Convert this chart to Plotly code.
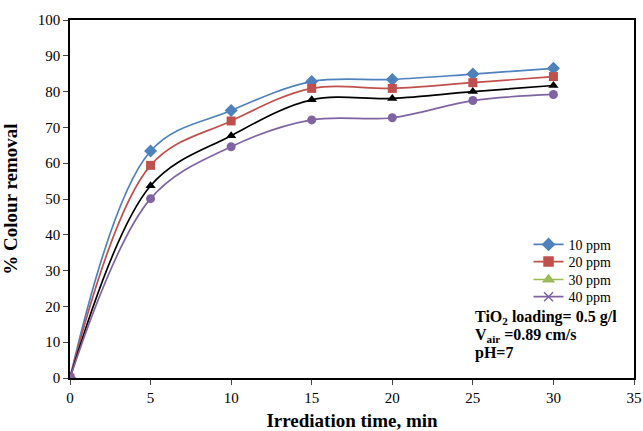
import plotly.graph_objects as go

time_min = [0, 5, 10, 15, 20, 25, 30]
ppm10 = [0, 63.4, 74.7, 82.8, 83.4, 84.9, 86.5]
ppm20 = [0, 59.4, 71.8, 80.9, 80.9, 82.5, 84.2]
ppm30 = [0, 53.7, 67.7, 77.7, 78.1, 80.0, 81.7]
ppm40 = [0, 50.1, 64.6, 72.1, 72.7, 77.5, 79.2]

x_ticks = [0, 5, 10, 15, 20, 25, 30, 35]
y_ticks = [0, 10, 20, 30, 40, 50, 60, 70, 80, 90, 100]

conditions = [
    "TiO<sub>2</sub> loading= 0.5 g/l",
    "V<sub>air</sub> =0.89 cm/s",
    "pH=7",
]

FONT = "Liberation Serif"

fig = go.Figure()

# plotted series
series = [
    ("10 ppm", ppm10, "#4F81BD", "diamond", 10),
    ("20 ppm", ppm20, "#C0504D", "square", 9),
    ("30 ppm", ppm30, "#000000", "triangle-up", 9),
    ("40 ppm", ppm40, "#8064A2", "circle", 9),
]
for name, vals, col, sym, size in series:
    fig.add_trace(go.Scatter(
        x=time_min, y=vals, name=name, mode="lines+markers",
        line=dict(color=col, width=1.7, shape="spline", smoothing=1.0),
        marker=dict(symbol=sym, size=size, color=col),
        showlegend=False,
    ))

# legend entries, one small legend per row for tight spacing
legend_items = [
    ("10 ppm", "#4F81BD", "diamond", "legend", 0.372),
    ("20 ppm", "#C0504D", "square", "legend2", 0.324),
    ("30 ppm", "#9BBB59", "triangle-up", "legend3", 0.274),
    ("40 ppm", "#8064A2", "x-thin", "legend4", 0.226),
]
legend_layout = {}
for name, col, sym, lg, ypos in legend_items:
    fig.add_trace(go.Scatter(
        x=[None], y=[None], name=name, mode="lines+markers", legend=lg,
        line=dict(color=col, width=1.7),
        marker=dict(symbol=sym, size=9, color=col, line=dict(color=col, width=1.5)),
    ))
    legend_layout[lg] = dict(
        x=0.813, y=ypos, xanchor="left", yanchor="middle",
        bgcolor="rgba(0,0,0,0)", itemwidth=30,
        font=dict(family=FONT, size=14, color="black"),
    )

# experimental conditions, one line each
for text, ypos in zip(conditions, [0.168, 0.120, 0.070]):
    fig.add_annotation(
        x=0.714, y=ypos, xref="paper", yref="paper", xanchor="left", yanchor="middle",
        align="left", showarrow=False, text=f"<b>{text}</b>",
        font=dict(family=FONT, size=16, color="black"),
    )

fig.update_layout(
    width=643, height=431,
    margin=dict(l=70, r=9, t=20, b=53),
    paper_bgcolor="white", plot_bgcolor="white",
    font=dict(family=FONT, size=14, color="black"),
    xaxis=dict(
        range=[0, 35], tickvals=x_ticks, ticks="outside", ticklen=5,
        showline=True, linecolor="black", linewidth=1.5, mirror=True,
        showgrid=False, zeroline=False, automargin=False,
        tickfont=dict(family=FONT, size=15, color="black"),
        title=dict(text="<b>Irrediation time, min</b>", font=dict(family=FONT, size=19)),
    ),
    yaxis=dict(
        range=[0, 100], tickvals=y_ticks, ticks="outside", ticklen=5,
        showline=True, linecolor="black", linewidth=1.5, mirror=True,
        showgrid=False, zeroline=False, automargin=False,
        tickfont=dict(family=FONT, size=15, color="black"),
        title=dict(text="<b>% Colour removal</b>", font=dict(family=FONT, size=19)),
    ),
    **legend_layout,
)

fig.write_html("out.html")
